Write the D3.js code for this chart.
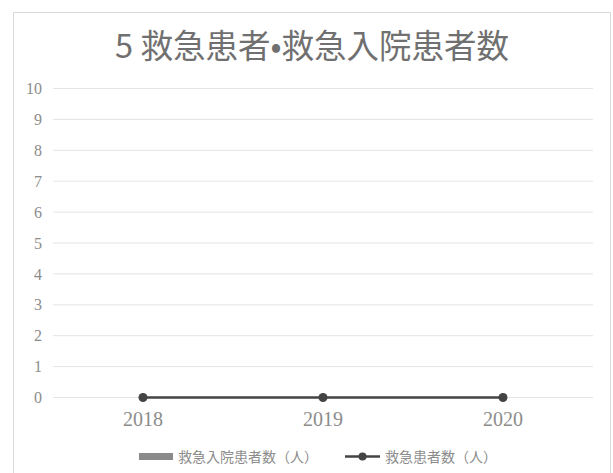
<!DOCTYPE html>
<html>
<head>
<meta charset="utf-8">
<script src="https://cdn.jsdelivr.net/npm/d3@7"></script>
<style>
  html, body { margin: 0; padding: 0; background: #fff; }
  svg { display: block; }
</style>
</head>
<body>
<svg id="chart" width="613" height="473"></svg>
<script>
// Fiscal years on the x axis
const years = ["2018", "2019", "2020"];
// 救急入院患者数 (bars)
const admissions = [0, 0, 0];
// 救急患者数 (line)
const patients = [0, 0, 0];
// y axis ticks
const yTicks = [0, 1, 2, 3, 4, 5, 6, 7, 8, 9, 10];

const title = "5 救急患者•救急入院患者数";
const legendBar = "救急入院患者数（人）";
const legendLine = "救急患者数（人）";

const svg = d3.select("#chart");

// Chart frame
svg.append("rect")
  .attr("x", 13.5).attr("y", 12.5)
  .attr("width", 597).attr("height", 480)
  .attr("fill", "#fff")
  .attr("stroke", "#d9d9d9").attr("stroke-width", 1);

const x = d3.scaleBand().domain(years).range([53, 593]);
const y = d3.scaleLinear().domain([0, 10]).range([397.5, 88.5]);

// Title
svg.append("text")
  .attr("x", 312).attr("y", 58)
  .attr("text-anchor", "middle")
  .attr("font-family", "'Noto Sans CJK JP', sans-serif")
  .attr("font-size", 32.5)
  .attr("fill", "#707070")
  .text(title);

// Horizontal gridlines
svg.append("g").selectAll("line")
  .data(yTicks).join("line")
  .attr("x1", x.range()[0]).attr("x2", x.range()[1])
  .attr("y1", d => y(d)).attr("y2", d => y(d))
  .attr("stroke", "#e4e4e4").attr("stroke-width", 1);

// Y axis labels
const yAxis = d3.axisLeft(y).tickValues(yTicks).tickSize(0).tickPadding(11);
svg.append("g")
  .attr("transform", `translate(${x.range()[0]},0)`)
  .call(yAxis)
  .call(g => g.select(".domain").remove())
  .call(g => g.selectAll("text")
    .attr("font-family", "'Liberation Serif', serif")
    .attr("font-size", 16)
    .attr("fill", "#8c8c8c"));

// X axis labels
const xAxis = d3.axisBottom(x).tickSize(0).tickPadding(14);
svg.append("g")
  .attr("transform", `translate(0,${y(0)})`)
  .call(xAxis)
  .call(g => g.select(".domain").remove())
  .call(g => g.selectAll("text")
    .attr("font-family", "'Liberation Serif', serif")
    .attr("font-size", 20)
    .attr("fill", "#8c8c8c"));

// Bars (救急入院患者数)
const barW = x.bandwidth() * 0.45;
svg.append("g").selectAll("rect")
  .data(admissions).join("rect")
  .attr("x", (d, i) => x(years[i]) + (x.bandwidth() - barW) / 2)
  .attr("y", d => y(d))
  .attr("width", barW)
  .attr("height", d => y(0) - y(d))
  .attr("fill", "#8a8a8a");

// Line (救急患者数)
const lineGen = d3.line()
  .x((d, i) => x(years[i]) + x.bandwidth() / 2)
  .y(d => y(d));
svg.append("path")
  .datum(patients)
  .attr("d", lineGen)
  .attr("fill", "none")
  .attr("stroke", "#444")
  .attr("stroke-width", 2.5);
svg.append("g").selectAll("circle")
  .data(patients).join("circle")
  .attr("cx", (d, i) => x(years[i]) + x.bandwidth() / 2)
  .attr("cy", d => y(d))
  .attr("r", 4.5)
  .attr("fill", "#444");

// Legend
const lg = svg.append("g").attr("font-family", "'Noto Sans CJK JP', sans-serif")
  .attr("font-size", 14).attr("fill", "#8c8c8c");
lg.append("rect")
  .attr("x", 139).attr("y", 453).attr("width", 34).attr("height", 7)
  .attr("fill", "#8a8a8a");
lg.append("text").attr("x", 178).attr("y", 462).text(legendBar);
lg.append("line")
  .attr("x1", 345).attr("x2", 380).attr("y1", 456.5).attr("y2", 456.5)
  .attr("stroke", "#444").attr("stroke-width", 2.5);
lg.append("circle").attr("cx", 362.5).attr("cy", 456.5).attr("r", 4).attr("fill", "#444");
lg.append("text").attr("x", 385).attr("y", 462).text(legendLine);
</script>
</body>
</html>
